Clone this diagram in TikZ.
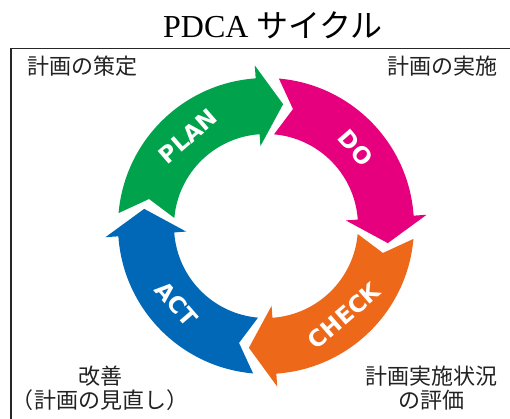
\documentclass[tikz,border=0pt]{standalone}
\usepackage{fontspec}
\setmainfont{Liberation Serif}
\newfontfamily\jpfont{Noto Sans CJK JP}
\newfontfamily\stepfont{DejaVu Sans}
\usepackage{tikz}
\usetikzlibrary{calc}
\definecolor{plangreen}{RGB}{0,163,76}
\definecolor{dopink}{RGB}{230,0,126}
\definecolor{checkorange}{RGB}{238,104,25}
\definecolor{actblue}{RGB}{0,104,183}
\definecolor{labelgray}{RGB}{34,34,34}
\tikzset{
  steplabel/.style={text=white, font=\stepfont\bfseries\fontsize{23}{23}\selectfont, inner sep=0pt},
  cornerlabel/.style={text=labelgray, font=\jpfont\fontsize{22}{24}\selectfont, align=center, inner sep=0pt},
  boxline/.style={draw=black!85, line width=1.6pt}
}
% #1 name, #2 colour, #3 tail angle, #4 text rotation, #5 text
\newcommand{\pdcaarrow}[5]{
  \fill[#2] (#3:148) arc[start angle=#3, end angle=#3-81, radius=148]
    -- ({#3-81}:161) -- ({#3-93}:123) -- ({#3-81}:80) -- ({#3-81}:92)
    arc[start angle=#3-81, end angle=#3, radius=92] -- ({#3-8}:120) -- cycle;
  \node[steplabel, rotate=#4] (#1) at ({#3-44}:119) {#5};
}
\begin{document}
\begin{tikzpicture}[x=1pt, y=1pt]
  \useasboundingbox (0,0) rectangle (510,419);
  \node[font=\fontsize{32}{32}\selectfont, inner sep=0pt] (title) at (273,394) {PDCA {\jpfont サイクル}};
  \coordinate (boxbottom) at (11,0);
  \coordinate (boxcorner) at (11,370.5);
  \coordinate (boxright) at (510,370.5);
  \draw[boxline] (boxbottom) -- (boxcorner) -- (boxright);

  \begin{scope}[shift={(266,193)}]
    \pdcaarrow{plan}{plangreen}{175}{41}{PLAN}
    \pdcaarrow{do}{dopink}{85}{-49}{DO}
    \pdcaarrow{check}{checkorange}{-5}{41}{CHECK}
    \pdcaarrow{act}{actblue}{-95}{-49}{ACT}
  \end{scope}

  \node[cornerlabel] (plantext) at (82,353) {計画の策定};
  \node[cornerlabel] (dotext) at (442,353) {計画の実施};
  \node[cornerlabel] (checktext) at (431,31) {計画実施状況\\の評価};
  \node[cornerlabel] (acttext) at (100,31) {改善\\（計画の見直し）};
\end{tikzpicture}
\end{document}
